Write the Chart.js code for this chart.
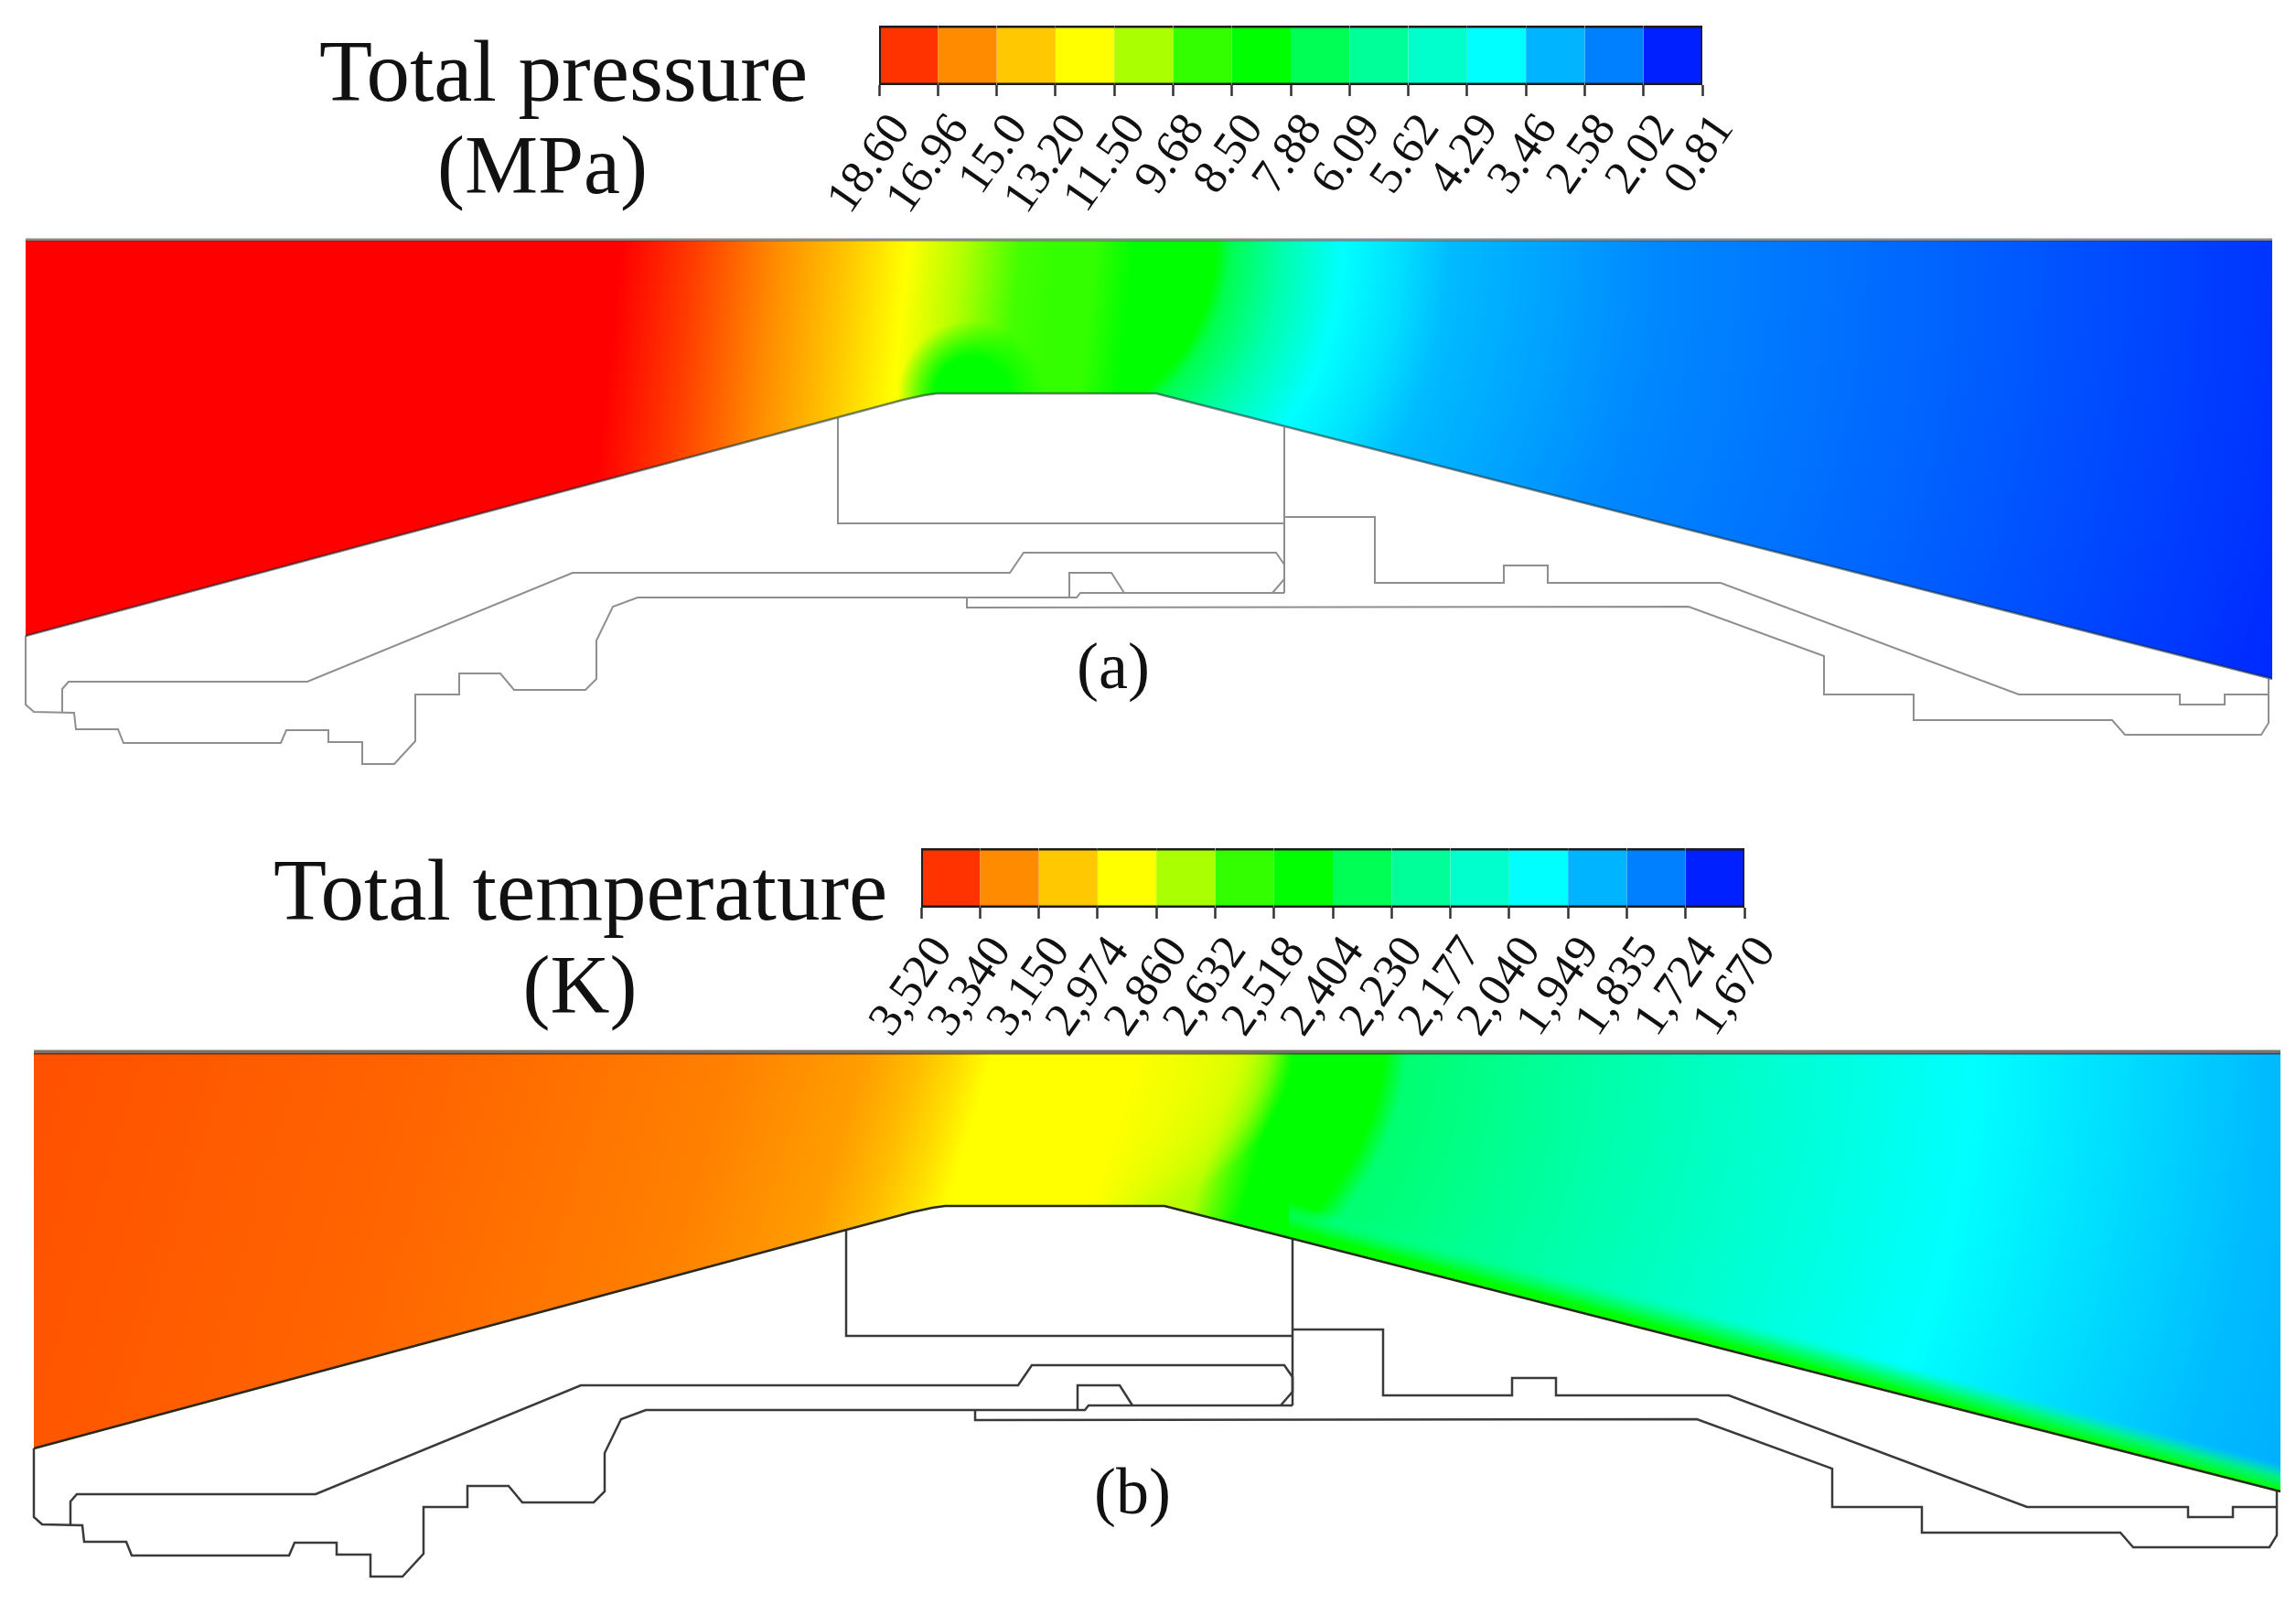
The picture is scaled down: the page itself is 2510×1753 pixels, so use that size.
<!DOCTYPE html>
<html>
<head>
<meta charset="utf-8">
<title>Total pressure and total temperature</title>
<script src="https://cdn.jsdelivr.net/npm/chart.js@4"></script>
<style>
	html, body { margin: 0; background: #fff; }
	body { position: relative; width: 2510px; height: 1753px; overflow: hidden; }
	canvas { position: absolute; }
</style>
</head>
<body>
<canvas id="campoPressao" width="2510" height="880" style="left:0;top:0"></canvas>
<canvas id="campoTemperatura" width="2501" height="865" style="left:9px;top:888px"></canvas>
<canvas id="barraPressao" width="1100" height="250" style="left:861px;top:0"></canvas>
<canvas id="barraTemperatura" width="1100" height="250" style="left:907px;top:899px"></canvas>
<script>
var bandColors = ['#ff3300', '#ff8c00', '#ffc800', '#ffff00', '#aaff00', '#33ff00', '#00ff00', '#00ff55', '#00ff99', '#00ffcc', '#00ffff', '#00b4ff', '#0080ff', '#0020ff'];
var pressureTicks = ['18.60', '16.96', '15.0', '13.20', '11.50', '9.68', '8.50', '7.88', '6.09', '5.62', '4.29', '3.46', '2.58', '2.02', '0.81'];
var temperatureTicks = ['3,520', '3,340', '3,150', '2,974', '2,860', '2,632', '2,518', '2,404', '2,230', '2,177', '2,040', '1,949', '1,835', '1,724', '1,670'];

// nozzle geometry, same for both panels
var topY = 263;
var topX = [28, 2484];
var wallX = [28, 987, 1010, 1024, 1264, 2484];
var wallY = [695, 437, 432, 430, 430, 742];
var divergingX = [1400, 2484];
var divergingY = [465, 742];
var outerX = [28, 28, 37, 81, 83, 129, 135, 307, 313, 359, 359, 396, 396, 431, 454, 454, 502, 502, 547, 562, 640, 652, 652, 670, 697, 1177, 1181, 1404];
var outerY = [695, 770, 778, 779, 797, 797, 812, 812, 798, 798, 811, 811, 835, 835, 810, 759, 759, 736, 736, 754, 754, 742, 700, 663, 653, 653, 648, 648];
var coolantX = [68, 68, 75, 336, 626, 1104, 1119, 1395, 1404, 1404, 1391];
var coolantY = [778, 753, 745, 745, 626, 626, 604, 604, 617, 633, 648];
var boxX = [916, 916, 1404];
var boxY = [457, 572, 572];
var columnX = [1404, 1404];
var columnY = [467, 648];
var stepX = [1404, 1503, 1503, 1644, 1644, 1692, 1692, 1881, 2207, 2383, 2383, 2432, 2432, 2480];
var stepY = [565, 565, 637, 637, 618, 618, 637, 637, 759, 759, 770, 770, 759, 759];
var lowerX = [2480, 2480, 2472, 2323, 2309, 2092, 2092, 1994, 1994, 1846, 1057, 1057];
var lowerY = [742, 790, 803, 803, 787, 787, 759, 759, 717, 663, 664, 653];
var trapX = [1169, 1169, 1215, 1229];
var trapY = [653, 626, 626, 648];

// colours along the top line of each field
var pressureInletX = [28, 680, 760, 851, 930, 994, 1055, 1116, 1157, 1198, 1240, 1275];
var pressureInletC = ['#ff0000', '#ff0000', '#ff3c00', '#ff8c00', '#ffc800', '#ffff00', '#b0ff00', '#44ff00', '#33ff00', '#33ff00', 'rgba(0,255,0,1)', 'rgba(0,255,0,0)'];
var pressureOutletX = [1129, 1329, 1345, 1400, 1468, 1530, 1585, 1813, 2134, 2455, 2620];
var pressureOutletC = ['#00ff00', '#00ff00', '#00ff50', '#00ffaa', '#00ffff', '#00e0ff', '#00bbff', '#0088ff', '#0062ff', '#0038ff', '#0020ff'];
var pressureThroatX = [1062, 1102, 1142];
var pressureThroatC = ['rgba(0,255,0,1)', 'rgba(0,255,0,1)', 'rgba(0,255,0,0)'];
var temperatureInletX = [27, 491, 791, 941, 995, 1041, 1077, 1235, 1345, 1400];
var temperatureInletC = ['#ff5000', '#ff6600', '#ff8000', '#ff9e00', '#ffbb00', '#ffdd00', '#ffff00', 'rgba(255,255,0,1)', 'rgba(220,255,0,.8)', 'rgba(180,255,0,0)'];
var temperatureOutletX = [1214, 1314, 1350, 1378, 1408, 1505, 1530, 1751, 1991, 2151, 2311, 2471, 2640];
var temperatureOutletC = ['#ffff00', '#ffff00', '#ccff00', '#80ff00', '#00ff00', '#00ff00', '#00ff70', '#00ffaa', '#00ffdd', '#00ffff', '#00ddff', '#00bbff', '#00a8ff'];

function pontos(xs, ys) {
	return xs.map(function(x, i) {
		return { x: x, y: ys[i] };
	});
}

function inclinado(xs, cores, tilt) {
	return function(context) {
		var chart = context.chart;
		if (!chart.chartArea) return 'transparent';
		var sx = chart.scales.x, sy = chart.scales.y;
		var lx = (xs[xs.length - 1] - xs[0]) / (1 + tilt * tilt);
		var g = chart.ctx.createLinearGradient(
			sx.getPixelForValue(xs[0]), sy.getPixelForValue(topY),
			sx.getPixelForValue(xs[0] + lx), sy.getPixelForValue(topY + lx * tilt));
		xs.forEach(function(x, i) {
			g.addColorStop((x - xs[0]) / (xs[xs.length - 1] - xs[0]), cores[i]);
		});
		return g;
	};
}

function radial(cy, xs, cores) {
	return function(context) {
		var chart = context.chart;
		if (!chart.chartArea) return 'transparent';
		var sx = chart.scales.x, sy = chart.scales.y;
		var r = xs[xs.length - 1] - xs[0];
		var g = chart.ctx.createRadialGradient(
			sx.getPixelForValue(xs[0]), sy.getPixelForValue(cy), 0,
			sx.getPixelForValue(xs[0]), sy.getPixelForValue(cy), r);
		xs.forEach(function(x, i) {
			g.addColorStop((x - xs[0]) / r, cores[i]);
		});
		return g;
	};
}

// thin green layer hugging the diverging wall in the temperature field
function camadaLimite(context) {
	var chart = context.chart;
	if (!chart.chartArea) return 'transparent';
	var x = chart.scales.x.getPixelForValue(2484);
	var y = chart.scales.y.getPixelForValue(742);
	var g = chart.ctx.createLinearGradient(x, y, x + 7.4, y - 28);
	g.addColorStop(0, '#00ff00');
	g.addColorStop(0.5, 'rgba(0,255,100,.8)');
	g.addColorStop(1, 'rgba(0,255,160,0)');
	return g;
}

function contorno(xs, ys, cor, largura) {
	return { data: pontos(xs, ys), borderColor: cor, borderWidth: largura, pointRadius: 0, fill: false, showLine: true };
}

function camada(cor, xs, ys) {
	return {
		data: pontos(xs || wallX, ys || wallY),
		backgroundColor: cor,
		borderWidth: 0,
		pointRadius: 0,
		showLine: true,
		fill: { target: { value: topY } }
	};
}

function desenharCampo(id, camadas, corLinha, larguraLinha, corParede, corTopo, larguraTopo, textos) {
	var canvas = document.getElementById(id);
	var linhas = [
		contorno(topX, [topY - 1, topY - 1], corTopo, larguraTopo),
		contorno(wallX, wallY, corParede, 2.5),
		contorno(outerX, outerY, corLinha, larguraLinha),
		contorno(coolantX, coolantY, corLinha, larguraLinha),
		contorno(boxX, boxY, corLinha, larguraLinha),
		contorno(columnX, columnY, corLinha, larguraLinha),
		contorno(stepX, stepY, corLinha, larguraLinha),
		contorno(lowerX, lowerY, corLinha, larguraLinha),
		contorno(trapX, trapY, corLinha, larguraLinha)
	];
	return new Chart(canvas.getContext('2d'), {
		type: 'scatter',
		data: { datasets: linhas.concat(camadas) },
		options: {
			responsive: false,
			animation: false,
			devicePixelRatio: 1,
			layout: { padding: 0 },
			plugins: { legend: { display: false }, tooltip: { enabled: false } },
			scales: {
				x: { type: 'linear', min: 0, max: canvas.width, display: false },
				y: { type: 'linear', min: 0, max: canvas.height, reverse: true, display: false }
			}
		},
		plugins: [{
			id: 'textos',
			afterDraw: function(chart) {
				var ctx = chart.ctx;
				ctx.save();
				ctx.fillStyle = '#111';
				textos.forEach(function(t) {
					ctx.font = t.size + 'px "Liberation Serif"';
					ctx.textAlign = t.align;
					ctx.textBaseline = 'alphabetic';
					ctx.fillText(t.text, chart.scales.x.getPixelForValue(t.x), chart.scales.y.getPixelForValue(t.y));
				});
				ctx.restore();
			}
		}]
	});
}

function desenharBarra(id, rotulos) {
	var canvas = document.getElementById(id);
	return new Chart(canvas.getContext('2d'), {
		type: 'bar',
		data: {
			labels: [''],
			datasets: bandColors.map(function(cor, i) {
				return {
					data: [1],
					backgroundColor: cor,
					borderColor: '#1c1c1c',
					borderWidth: { top: 3, bottom: 3, left: i === 0 ? 2 : 0, right: i === 13 ? 2 : 0 },
					borderSkipped: false,
					inflateAmount: 0.5,
					barPercentage: 1,
					categoryPercentage: 1
				};
			})
		},
		options: {
			indexAxis: 'y',
			responsive: false,
			animation: false,
			devicePixelRatio: 1,
			layout: { padding: { left: 100, right: 100, top: 28, bottom: 0 } },
			plugins: { legend: { display: false }, tooltip: { enabled: false } },
			scales: {
				x: {
					type: 'linear',
					stacked: true,
					min: 0,
					max: 14,
					afterFit: function(scale) {
						scale.height = 157;
						scale.paddingLeft = 0;
						scale.paddingRight = 0;
					},
					border: { display: false },
					grid: { drawOnChartArea: false, drawTicks: true, tickLength: 12, tickColor: '#333', tickWidth: 2.5 },
					ticks: {
						stepSize: 1,
						autoSkip: false,
						minRotation: 55,
						maxRotation: 55,
						padding: 9,
						labelOffset: 24,
						color: '#111',
						font: { family: '"Liberation Serif"', size: 52 },
						callback: function(v) {
							return rotulos[v];
						}
					}
				},
				y: { stacked: true, display: false }
			}
		}
	});
}

desenharCampo('campoPressao', [
	camada(radial(430, pressureThroatX, pressureThroatC)),
	camada(inclinado(pressureInletX, pressureInletC, 0.106)),
	camada(radial(268, pressureOutletX, pressureOutletC))
], '#8f8f8f', 2, 'rgba(20,40,40,.55)', 'rgba(20,20,20,.5)', 3, [
	{ text: 'Total pressure', x: 349, y: 110, size: 95, align: 'left' },
	{ text: '(MPa)', x: 593, y: 211, size: 90, align: 'center' },
	{ text: '(a)', x: 1217, y: 752, size: 72, align: 'center' }
]);

desenharCampo('campoTemperatura', [
	camada(camadaLimite, divergingX, divergingY),
	camada(inclinado(temperatureInletX, temperatureInletC, 0.3)),
	camada(radial(238, temperatureOutletX, temperatureOutletC))
], '#3a3a3a', 2.5, '#2a2a1a', 'rgba(30,20,10,.6)', 5, [
	{ text: 'Total temperature', x: 290, y: 117, size: 95, align: 'left' },
	{ text: '(K)', x: 625, y: 219, size: 90, align: 'center' },
	{ text: '(b)', x: 1229, y: 766, size: 72, align: 'center' }
]);

desenharBarra('barraPressao', pressureTicks);
desenharBarra('barraTemperatura', temperatureTicks);
</script>
</body>
</html>
